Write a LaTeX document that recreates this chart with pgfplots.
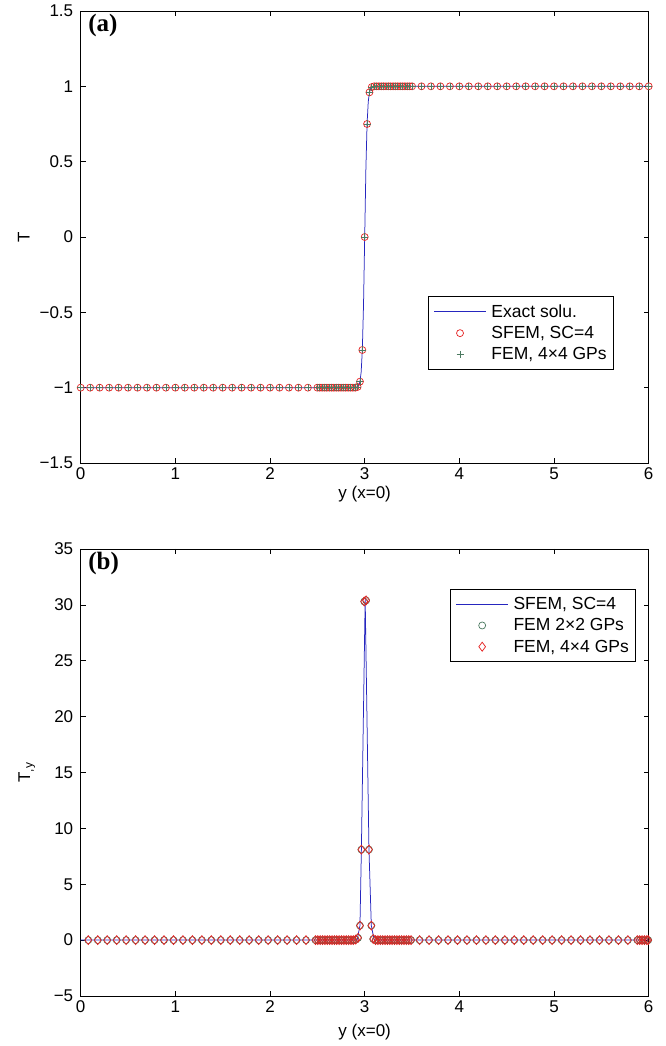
\documentclass[border=0pt]{standalone}
\usepackage{pgfplots}
\usepackage{pgfplotstable}
\usepackage{fontspec}
\pgfplotsset{compat=1.18}
\setmainfont{Liberation Sans}
\newfontfamily\tnr{Liberation Serif}
\definecolor{lineblue}{rgb}{0.15,0.15,0.75}
\definecolor{mred}{rgb}{0.9,0.12,0.12}
\definecolor{mgreen}{rgb}{0.3,0.48,0.38}

% ---- panel (a) data ----
\pgfplotstableread{
x T
0 -1
0.1 -1
0.2 -1
0.3 -1
0.4 -1
0.5 -1
0.6 -1
0.7 -1
0.8 -1
0.9 -1
1.0 -1
1.1 -1
1.2 -1
1.3 -1
1.4 -1
1.5 -1
1.6 -1
1.7 -1
1.8 -1
1.9 -1
2.0 -1
2.1 -1
2.2 -1
2.3 -1
2.4 -1
2.5 -1
2.525 -1
2.55 -1
2.575 -1
2.6 -1
2.625 -1
2.65 -1
2.675 -1
2.7 -1
2.725 -1
2.75 -1
2.775 -1
2.8 -1
2.825 -1
2.85 -1
2.875 -1
2.9 -1
2.925 -0.995
2.95 -0.96
2.975 -0.75
3.0 0
3.025 0.75
3.05 0.96
3.075 0.995
3.1 1
3.125 1
3.15 1
3.175 1
3.2 1
3.225 1
3.25 1
3.275 1
3.3 1
3.325 1
3.35 1
3.375 1
3.4 1
3.425 1
3.45 1
3.475 1
3.5 1
3.6 1
3.7 1
3.8 1
3.9 1
4.0 1
4.1 1
4.2 1
4.3 1
4.4 1
4.5 1
4.6 1
4.7 1
4.8 1
4.9 1
5.0 1
5.1 1
5.2 1
5.3 1
5.4 1
5.5 1
5.6 1
5.7 1
5.8 1
5.9 1
6.0 1
}\nodesA

\pgfplotstableread{
x T
0 -1
2.85 -1
2.9 -0.9992
2.925 -0.9942
2.9375 -0.9847
2.95 -0.9601
2.9625 -0.8978
2.975 -0.7499
2.9875 -0.4512
3.0 0
3.0125 0.4512
3.025 0.7499
3.0375 0.8978
3.05 0.9601
3.0625 0.9847
3.075 0.9942
3.1 0.9992
3.15 1
6 1
}\exactA

% ---- panel (b) data ----
\pgfplotstableread{
x Ty
0.08 0
0.18 0
0.28 0
0.38 0
0.48 0
0.58 0
0.68 0
0.78 0
0.88 0
0.98 0
1.08 0
1.18 0
1.28 0
1.38 0
1.48 0
1.58 0
1.68 0
1.78 0
1.88 0
1.98 0
2.08 0
2.18 0
2.28 0
2.38 0
2.48 0
2.505 0
2.53 0
2.555 0
2.58 0
2.605 0
2.63 0
2.655 0
2.68 0
2.705 0
2.73 0
2.755 0
2.78 0
2.805 0
2.83 0
2.855 0
2.88 0
2.905 0.05
2.93 0.2
2.95 1.3
2.965 8.1
2.995 30.3
3.015 30.4
3.045 8.1
3.07 1.3
3.09 0.1
3.115 0
3.14 0
3.165 0
3.19 0
3.215 0
3.24 0
3.265 0
3.29 0
3.315 0
3.34 0
3.365 0
3.39 0
3.415 0
3.44 0
3.465 0
3.49 0
3.58 0
3.68 0
3.78 0
3.88 0
3.98 0
4.08 0
4.18 0
4.28 0
4.38 0
4.48 0
4.58 0
4.68 0
4.78 0
4.88 0
4.98 0
5.08 0
5.18 0
5.28 0
5.38 0
5.48 0
5.58 0
5.68 0
5.78 0
5.88 0
5.905 0
5.93 0
5.955 0
5.98 0
5.995 0
}\nodesB

\pgfplotstableread{
x Ty
0 0
2.92 0
2.95 1.3
2.965 8.1
3.005 30.6
3.045 8.1
3.07 1.3
3.1 0
6 0
}\lineB

\pgfplotsset{
  myaxis/.style={
    scale only axis,
    width=568pt,
    xmin=0, xmax=6,
    xtick={0,1,2,3,4,5,6},
    tick align=inside,
    major tick length=5pt,
    axis line style={line width=0.8pt},
    tick style={line width=0.6pt, black},
    tick label style={font=\fontsize{17}{20}\selectfont},
    xticklabel style={yshift=-1pt},
    yticklabel style={xshift=-4pt},
    label style={font=\fontsize{17}{20}\selectfont},
    /pgf/number format/assume math mode=true,
    xlabel={y (x=0)},
    legend style={font=\fontsize{17.5}{20}\selectfont, draw=black, line width=0.8pt,
      inner xsep=5pt, inner ysep=6pt, row sep=3.5pt, column sep=3pt, legend cell align=left},
    legend image code/.code={\draw[mark repeat=2,mark phase=2,#1] plot coordinates {(0pt,0pt) (26pt,0pt) (52pt,0pt)};},
  }
}

\begin{document}
\begin{tikzpicture}[x=1pt,y=1pt]
\useasboundingbox (0,0) rectangle (665,1046);

\begin{axis}[myaxis,
  at={(80.7pt,583pt)}, anchor=south west,
  height=452pt,
  ymin=-1.5, ymax=1.5,
  ytick={-1.5,-1,-0.5,0,0.5,1,1.5},
  yticklabels={−1.5,−1,−0.5,0,0.5,1,1.5},
  ylabel={T},
  ylabel style={at={(axis description cs:-0.1,0.5)}, anchor=center},
  xlabel style={at={(axis description cs:0.5,-0.068)}, anchor=center},
  legend style={at={(rel axis cs:0.939,0.369)}, anchor=north east},
]
\addplot[lineblue, line width=0.75pt] table[x=x,y=T] {\exactA};
\addlegendentry{Exact solu.}
\addplot[only marks, mark=o, mark size=3.5pt, mred, mark options={line width=0.7pt}] table[x=x,y=T] {\nodesA};
\addlegendentry{SFEM, SC=4}
\addplot[only marks, mark=+, mark size=3.5pt, mgreen, mark options={line width=0.7pt}] table[x=x,y=T] {\nodesA};
\addlegendentry{FEM, 4×4 GPs}
\node[anchor=north west, inner sep=0pt, font=\tnr\bfseries\fontsize{25}{27}\selectfont] at (rel axis cs:0.013,0.994) {(a)};
\end{axis}

\begin{axis}[myaxis,
  at={(80.7pt,50pt)}, anchor=south west,
  height=447pt,
  ymin=-5, ymax=35,
  ytick={-5,0,5,10,15,20,25,30,35},
  yticklabels={−5,0,5,10,15,20,25,30,35},
  ylabel={T\textsubscript{,y}},
  ylabel style={at={(axis description cs:-0.095,0.5)}, anchor=center},
  xlabel style={at={(axis description cs:0.5,-0.08)}, anchor=center},
  legend style={at={(rel axis cs:0.978,0.9105)}, anchor=north east},
]
\addplot[lineblue, line width=0.75pt] table[x=x,y=Ty] {\lineB};
\addlegendentry{SFEM, SC=4}
\addplot[only marks, mark=o, mark size=3.5pt, mgreen, mark options={line width=0.7pt}] table[x=x,y=Ty] {\nodesB};
\addlegendentry{FEM 2×2 GPs}
\addplot[only marks, mark=diamond, mark size=4.5pt, mred, mark options={line width=0.7pt}] table[x=x,y=Ty] {\nodesB};
\addlegendentry{FEM, 4×4 GPs}
\node[anchor=north west, inner sep=0pt, font=\tnr\bfseries\fontsize{25}{27}\selectfont] at (rel axis cs:0.013,0.994) {(b)};
\end{axis}
\end{tikzpicture}
\end{document}
